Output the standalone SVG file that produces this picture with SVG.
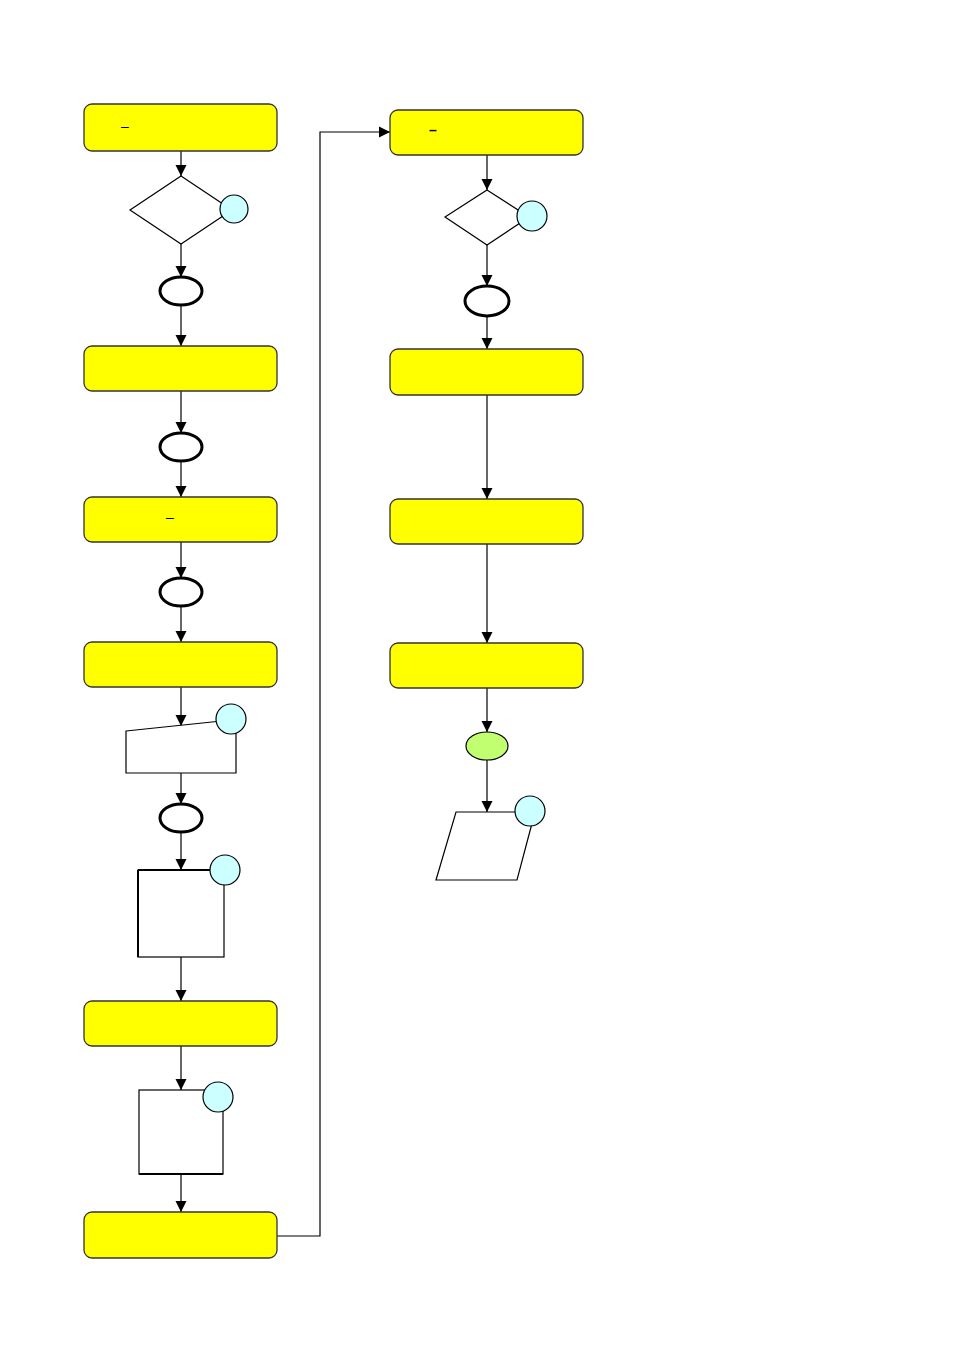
<svg xmlns="http://www.w3.org/2000/svg" width="954" height="1348" viewBox="0 0 954 1348">
<defs>
<marker id="ah" markerWidth="12" markerHeight="12" viewBox="0 0 12 12" refX="11" refY="6" orient="auto" markerUnits="userSpaceOnUse">
<path d="M0,0.5 L11,6 L0,11.5 Z" fill="#000"/>
</marker>
<style>
.box{fill:#ffff00;stroke:#333;stroke-width:1.3}
.shape{fill:#fff;stroke:#000;stroke-width:1.2}
.ev{fill:#fff;stroke:#000;stroke-width:3}
.cir{fill:#ccffff;stroke:#000;stroke-width:1.2}
.ln{fill:none;stroke:#000;stroke-width:1.2}
.lbl{font-family:"Liberation Sans",Arial,sans-serif;font-size:14px;fill:#000}
</style>
</defs>
<rect width="954" height="1348" fill="#fff"/>
<g id="connectors">
<line class="ln" x1="181" y1="151" x2="181" y2="176" marker-end="url(#ah)"/>
<line class="ln" x1="181" y1="244" x2="181" y2="277" marker-end="url(#ah)"/>
<line class="ln" x1="181" y1="305" x2="181" y2="346" marker-end="url(#ah)"/>
<line class="ln" x1="181" y1="391" x2="181" y2="433" marker-end="url(#ah)"/>
<line class="ln" x1="181" y1="461" x2="181" y2="497" marker-end="url(#ah)"/>
<line class="ln" x1="181" y1="542" x2="181" y2="578" marker-end="url(#ah)"/>
<line class="ln" x1="181" y1="606" x2="181" y2="642" marker-end="url(#ah)"/>
<line class="ln" x1="181" y1="687" x2="181" y2="726" marker-end="url(#ah)"/>
<line class="ln" x1="181" y1="773" x2="181" y2="804" marker-end="url(#ah)"/>
<line class="ln" x1="181" y1="832" x2="181" y2="870" marker-end="url(#ah)"/>
<line class="ln" x1="181" y1="957" x2="181" y2="1001" marker-end="url(#ah)"/>
<line class="ln" x1="181" y1="1046" x2="181" y2="1090" marker-end="url(#ah)"/>
<line class="ln" x1="181" y1="1174" x2="181" y2="1212" marker-end="url(#ah)"/>
<polyline class="ln" points="277,1236 320,1236 320,132 390,132" marker-end="url(#ah)"/>
<line class="ln" x1="487" y1="155" x2="487" y2="190" marker-end="url(#ah)"/>
<line class="ln" x1="487" y1="245" x2="487" y2="286" marker-end="url(#ah)"/>
<line class="ln" x1="487" y1="316" x2="487" y2="349" marker-end="url(#ah)"/>
<line class="ln" x1="487" y1="395" x2="487" y2="499" marker-end="url(#ah)"/>
<line class="ln" x1="487" y1="544" x2="487" y2="643" marker-end="url(#ah)"/>
<line class="ln" x1="487" y1="688" x2="487" y2="732" marker-end="url(#ah)"/>
<line class="ln" x1="487" y1="760" x2="487" y2="812" marker-end="url(#ah)"/>
</g>
<g id="L1"><rect class="box" x="84" y="104" width="193" height="47" rx="8"/><text class="lbl" x="121" y="131">–</text></g>
<g id="Ldec"><polygon class="shape" points="181,176 232,210 181,244 130,210"/><circle class="cir" cx="234" cy="209" r="14"/></g>
<g id="Lev1"><ellipse class="ev" cx="181" cy="291" rx="21" ry="14"/></g>
<g id="L2"><rect class="box" x="84" y="346" width="193" height="45" rx="8"/></g>
<g id="Lev2"><ellipse class="ev" cx="181" cy="447" rx="21" ry="14"/></g>
<g id="L3"><rect class="box" x="84" y="497" width="193" height="45" rx="8"/><text class="lbl" x="166" y="522">–</text></g>
<g id="Lev3"><ellipse class="ev" cx="181" cy="592" rx="21" ry="14"/></g>
<g id="L4"><rect class="box" x="84" y="642" width="193" height="45" rx="8"/></g>
<g id="Lman"><polygon class="shape" points="126,731 231,720 236,720 236,773 126,773"/><circle class="cir" cx="231" cy="719" r="15"/></g>
<g id="Lev4"><ellipse class="ev" cx="181" cy="818" rx="21" ry="14"/></g>
<g id="Lrect1"><rect class="shape" x="138" y="870" width="86" height="87"/><line x1="138" y1="870" x2="138" y2="957" stroke="#000" stroke-width="2"/><line x1="138" y1="870" x2="224" y2="870" stroke="#000" stroke-width="2"/><circle class="cir" cx="225" cy="870" r="15"/></g>
<g id="L5"><rect class="box" x="84" y="1001" width="193" height="45" rx="8"/></g>
<g id="Lrect2"><rect class="shape" x="139" y="1090" width="84" height="84"/><line x1="139" y1="1174" x2="223" y2="1174" stroke="#000" stroke-width="2"/><circle class="cir" cx="218" cy="1097" r="15"/></g>
<g id="L6"><rect class="box" x="84" y="1212" width="193" height="46" rx="8"/></g>
<g id="R1"><rect class="box" x="390" y="110" width="193" height="45" rx="8"/><text class="lbl" x="429" y="135" font-weight="bold">–</text></g>
<g id="Rdec"><polygon class="shape" points="487,190 529,217 487,245 445,217"/><circle class="cir" cx="532" cy="216" r="15"/></g>
<g id="Rev1"><ellipse class="ev" cx="487" cy="301" rx="22" ry="15"/></g>
<g id="R2"><rect class="box" x="390" y="349" width="193" height="46" rx="8"/></g>
<g id="R3"><rect class="box" x="390" y="499" width="193" height="45" rx="8"/></g>
<g id="R4"><rect class="box" x="390" y="643" width="193" height="45" rx="8"/></g>
<g id="Rend"><ellipse cx="487" cy="746" rx="21" ry="14" fill="#c2ff70" stroke="#000" stroke-width="1.2"/></g>
<g id="Rdata"><polygon class="shape" points="456,812 535,812 517,880 436,880"/><circle class="cir" cx="530" cy="811" r="15"/></g>
</svg>
